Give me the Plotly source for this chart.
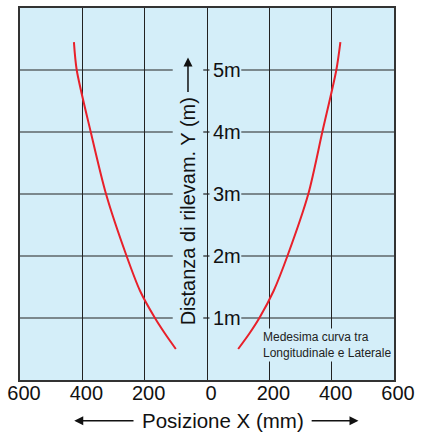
import plotly.graph_objects as go

# Data
y_m = [0.5, 0.75, 1.0, 1.44, 2.0, 3.0, 4.0, 5.0, 5.45]
right_x_mm = [100, 136, 168, 214, 258, 325, 370, 415, 428]
left_x_mm = [-100, -135, -167, -215, -258, -324, -373, -418, -427]

x_tickvals = [-600, -400, -200, 0, 200, 400, 600]
x_ticktext = ["600", "400", "200", "0", "200", "400", "600"]
y_levels = [1, 2, 3, 4, 5]
y_labels = ["1m", "2m", "3m", "4m", "5m"]

BG = "#D4EEF9"
GRID = "#222222"
RED = "#E8202A"
FONT = "Liberation Sans, Arial, sans-serif"

fig = go.Figure()
for xs in (left_x_mm, right_x_mm):
    fig.add_trace(go.Scatter(x=xs, y=y_m, mode="lines",
                             line=dict(color=RED, width=2, shape="spline", smoothing=0.8),
                             hoverinfo="skip", showlegend=False))

shapes = []
for yv in y_levels:
    shapes.append(dict(type="line", xref="x", yref="y", x0=-600, x1=-110, y0=yv, y1=yv,
                       line=dict(color=GRID, width=1.2), layer="below"))
    shapes.append(dict(type="line", xref="x", yref="y", x0=110, x1=600, y0=yv, y1=yv,
                       line=dict(color=GRID, width=1.2), layer="below"))
    shapes.append(dict(type="line", xref="x", yref="y", x0=-12, x1=8, y0=yv, y1=yv,
                       line=dict(color=GRID, width=1.2), layer="below"))

annotations = []
for yv, lab in zip(y_levels, y_labels):
    annotations.append(dict(x=12, y=yv, xref="x", yref="y", text=lab, showarrow=False,
                            xanchor="left", yanchor="middle",
                            font=dict(family=FONT, size=20, color="#111")))

# Y title (rotated) and its arrow
annotations.append(dict(x=-61, y=2.72, xref="x", yref="y", text="Distanza di rilevam. Y (m)",
                        textangle=-90, showarrow=False, xanchor="center", yanchor="middle",
                        font=dict(family=FONT, size=20, color="#111")))
annotations.append(dict(x=-61, y=5.2, xref="x", yref="y", ax=-61, ay=4.62, axref="x", ayref="y",
                        text="", showarrow=True, arrowhead=2, arrowsize=1.2, arrowwidth=1.5,
                        arrowcolor="#111"))

# Note
annotations.append(dict(x=173, y=0.57, xref="x", yref="y",
                        text="Medesima curva tra<br>Longitudinale e Laterale",
                        showarrow=False, xanchor="left", yanchor="middle", align="left",
                        bgcolor=BG, borderpad=1,
                        font=dict(family=FONT, size=12, color="#222")))

# X title and arrows
annotations.append(dict(x=51, y=-0.1096, xref="x", yref="y domain", text="Posizione X (mm)",
                        showarrow=False, xanchor="center", yanchor="middle",
                        font=dict(family=FONT, size=20.5, color="#111")))
annotations.append(dict(x=-426, y=-0.1096, xref="x", yref="y domain",
                        ax=-231, ay=-0.1096, axref="x", ayref="y domain",
                        text="", showarrow=True, arrowhead=2, arrowsize=1.2, arrowwidth=1.5,
                        arrowcolor="#111"))
annotations.append(dict(x=486, y=-0.1096, xref="x", yref="y domain",
                        ax=331, ay=-0.1096, axref="x", ayref="y domain",
                        text="", showarrow=True, arrowhead=2, arrowsize=1.2, arrowwidth=1.5,
                        arrowcolor="#111"))

fig.update_layout(
    width=421, height=434,
    margin=dict(l=20, r=26, t=6, b=54),
    paper_bgcolor="white", plot_bgcolor=BG,
    shapes=shapes, annotations=annotations,
    showlegend=False,
    xaxis=dict(range=[-600, 600], tickvals=x_tickvals, ticktext=x_ticktext,
               showgrid=True, gridcolor=GRID, gridwidth=1.2, zeroline=False,
               showline=True, mirror=True, linecolor="#333", linewidth=2,
               ticks="", ticklabelshift=4, ticklabelstandoff=-6,
               tickfont=dict(family=FONT, size=20, color="#111"), fixedrange=True),
    yaxis=dict(range=[0, 6], showgrid=False, zeroline=False, showticklabels=False,
               showline=True, mirror=True, linecolor="#333", linewidth=2,
               ticks="", fixedrange=True),
)

fig.write_html("out.html", config={"displayModeBar": False},
               post_script="document.body.style.margin='0';document.body.style.overflow='hidden';")
